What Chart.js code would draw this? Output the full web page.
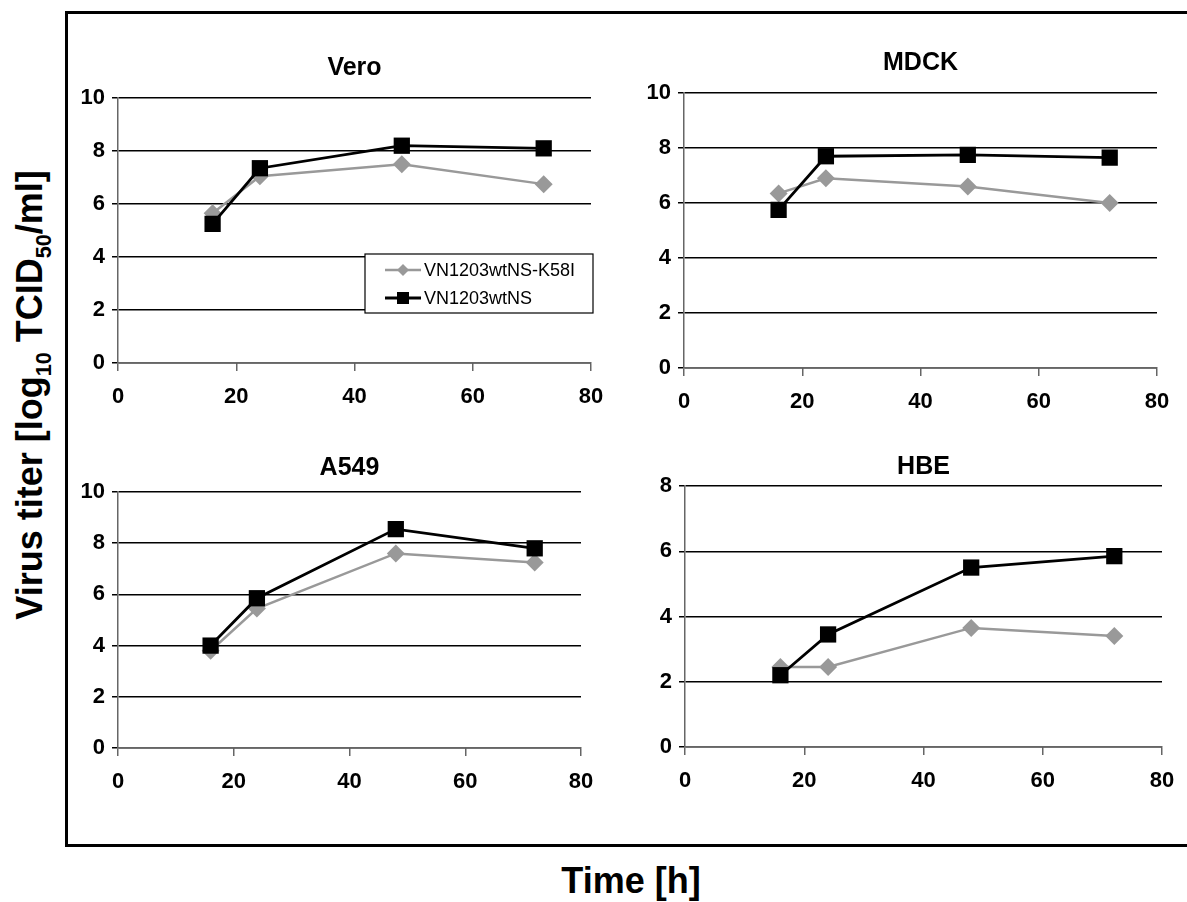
<!DOCTYPE html>
<html>
<head>
<meta charset="utf-8">
<title>Virus titer growth curves</title>
<script src="https://cdn.jsdelivr.net/npm/chart.js@4/dist/chart.umd.min.js"></script>
<style>
    body {
        margin: 0;
        width: 1187px;
        height: 902px;
        overflow: hidden;
        background: #fff;
        position: relative;
        font-family: 'Liberation Sans', Arial, sans-serif;
    }
    #frame {
        position: absolute;
        left: 65px;
        top: 11px;
        width: 1200px;
        height: 830px;
        border: 3px solid #000;
    }
    canvas {
        position: absolute;
    }
    .axis-title {
        position: absolute;
        font-weight: bold;
        white-space: nowrap;
        color: #000;
        transform: translate(-50%, -50%);
    }
    #yTitle {
        left: 33px;
        top: 395px;
        font-size: 36px;
        transform: translate(-50%, -50%) rotate(-90deg);
    }
    #yTitle sub {
        font-size: 60%;
    }
    #xTitle {
        left: 631px;
        top: 881px;
        font-size: 36px;
    }
</style>
</head>
<body>
<div id="frame"></div>
<div class="axis-title" id="yTitle">Virus titer [log<sub>10</sub> TCID<sub>50</sub>/ml]</div>
<div class="axis-title" id="xTitle">Time [h]</div>
<canvas id="veroChart"></canvas>
<canvas id="mdckChart"></canvas>
<canvas id="a549Chart"></canvas>
<canvas id="hbeChart"></canvas>

<script>
// Sampling times (h)
const hours = [16, 24, 48, 72];

// Series names
const seriesNames = ['VN1203wtNS-K58I', 'VN1203wtNS'];

// Titers, log10 TCID50/ml
const veroK58I = [5.65, 7.05, 7.5, 6.75];
const veroWt   = [5.25, 7.35, 8.2, 8.1];
const mdckK58I = [6.35, 6.9, 6.6, 6.0];
const mdckWt   = [5.75, 7.7, 7.75, 7.65];
const a549K58I = [3.8, 5.45, 7.6, 7.25];
const a549Wt   = [4.0, 5.85, 8.55, 7.8];
const hbeK58I  = [2.45, 2.45, 3.65, 3.4];
const hbeWt    = [2.2, 3.45, 5.5, 5.85];

// Axis ranges
const xMin = 0, xMax = 80, xStep = 20;
const yMaxFull = 10;
const yMaxHbe = 8;
const yStep = 2;

const FONT = "'Liberation Sans', Arial, sans-serif";
const GREY = '#999999';

/**
 * Panel title, drawn above the plot area
 */
const panelTitlePlugin = {
    id: 'panelTitle',
    afterDraw(chart, args, opts) {
        const area = chart.chartArea;
        const ctx = chart.ctx;
        ctx.save();
        ctx.font = 'bold 25px ' + FONT;
        ctx.fillStyle = '#000';
        ctx.textAlign = 'center';
        ctx.textBaseline = 'middle';
        ctx.fillText(opts.text, (area.left + area.right) / 2, area.top - opts.dy);
        ctx.restore();
    }
};

/**
 * Boxed legend inside the Vero panel
 */
const boxLegendPlugin = {
    id: 'boxLegend',
    afterDraw(chart, args, opts) {
        if (!opts.show) return;
        const area = chart.chartArea;
        const ctx = chart.ctx;
        const x0 = area.left + opts.left;
        const y0 = area.top + opts.top;

        ctx.save();
        ctx.fillStyle = '#fff';
        ctx.fillRect(x0, y0, opts.width, opts.height);
        ctx.strokeStyle = '#000';
        ctx.lineWidth = 1.2;
        ctx.strokeRect(x0, y0, opts.width, opts.height);

        chart.data.datasets.forEach((ds, i) => {
            const cy = y0 + 16 + i * 28;
            const lx = x0 + 20;
            // line sample
            ctx.strokeStyle = ds.borderColor;
            ctx.lineWidth = ds.borderWidth;
            ctx.beginPath();
            ctx.moveTo(lx, cy);
            ctx.lineTo(lx + 36, cy);
            ctx.stroke();
            // marker sample
            const mx = lx + 18;
            ctx.fillStyle = ds.pointBackgroundColor;
            ctx.beginPath();
            if (ds.pointStyle === 'rectRot') {
                ctx.moveTo(mx, cy - 6);
                ctx.lineTo(mx + 6, cy);
                ctx.lineTo(mx, cy + 6);
                ctx.lineTo(mx - 6, cy);
                ctx.closePath();
            } else {
                ctx.rect(mx - 6, cy - 6, 12, 12);
            }
            ctx.fill();
            // label
            ctx.fillStyle = '#000';
            ctx.font = '18px ' + FONT;
            ctx.textAlign = 'left';
            ctx.textBaseline = 'middle';
            ctx.fillText(ds.label, lx + 39, cy + 1);
        });
        ctx.restore();
    }
};

function makeDatasets(k58i, wt) {
    return [
        {
            label: seriesNames[0],
            data: hours.map((h, i) => ({ x: h, y: k58i[i] })),
            borderColor: GREY,
            backgroundColor: GREY,
            pointBackgroundColor: GREY,
            pointBorderColor: GREY,
            borderWidth: 2.5,
            pointStyle: 'rectRot',
            pointRadius: 9,
            pointBorderWidth: 0,
            tension: 0,
            order: 1
        },
        {
            label: seriesNames[1],
            data: hours.map((h, i) => ({ x: h, y: wt[i] })),
            borderColor: '#000',
            backgroundColor: '#000',
            pointBackgroundColor: '#000',
            pointBorderColor: '#000',
            borderWidth: 2.8,
            pointStyle: 'rect',
            pointRadius: 11.5,
            pointBorderWidth: 0,
            tension: 0,
            order: 0
        }
    ];
}

/**
 * One small panel; area gives the wanted plot box on the page
 */
function createPanel(canvasId, title, titleDy, area, yMax, k58i, wt, withLegend) {
    const padLeft = 60, padTop = 50, padRight = 35, padBottom = 55;
    const canvas = document.getElementById(canvasId);
    const w = area.right - area.left + padLeft + padRight;
    const h = area.bottom - area.top + padTop + padBottom;
    canvas.width = w;
    canvas.height = h;
    canvas.style.left = (area.left - padLeft) + 'px';
    canvas.style.top = (area.top - padTop) + 'px';
    canvas.style.width = w + 'px';
    canvas.style.height = h + 'px';

    return new Chart(canvas, {
        type: 'line',
        data: { datasets: makeDatasets(k58i, wt) },
        plugins: [panelTitlePlugin, boxLegendPlugin],
        options: {
            responsive: false,
            animation: false,
            devicePixelRatio: 1,
            layout: {
                padding: { top: padTop, right: padRight, left: 0, bottom: 0 }
            },
            plugins: {
                legend: { display: false },
                tooltip: { enabled: false },
                title: { display: false },
                panelTitle: { text: title, dy: titleDy },
                boxLegend: {
                    show: withLegend,
                    left: 247,
                    top: 156,
                    width: 228,
                    height: 59
                }
            },
            scales: {
                x: {
                    type: 'linear',
                    min: xMin,
                    max: xMax,
                    afterFit: function(scale) { scale.height = padBottom; },
                    ticks: {
                        stepSize: xStep,
                        color: '#000',
                        padding: 13,
                        maxRotation: 0,
                        font: { family: FONT, size: 22, weight: 'bold' }
                    },
                    grid: {
                        drawOnChartArea: false,
                        drawTicks: true,
                        tickLength: 8,
                        color: '#666',
                        lineWidth: 1.5
                    },
                    border: { color: '#666', width: 1.5 }
                },
                y: {
                    min: 0,
                    max: yMax,
                    afterFit: function(scale) { scale.width = padLeft; },
                    ticks: {
                        stepSize: yStep,
                        color: '#000',
                        padding: 7,
                        font: { family: FONT, size: 22, weight: 'bold' }
                    },
                    grid: {
                        color: '#000',
                        lineWidth: 1.5,
                        drawTicks: true,
                        tickLength: 6
                    },
                    border: { color: '#666', width: 1.5 }
                }
            }
        }
    });
}

createPanel('veroChart', 'Vero', 30, { left: 118, right: 591, top: 98, bottom: 363 }, yMaxFull, veroK58I, veroWt, true);
createPanel('mdckChart', 'MDCK', 30, { left: 684, right: 1157, top: 93, bottom: 368 }, yMaxFull, mdckK58I, mdckWt, false);
createPanel('a549Chart', 'A549', 24, { left: 118, right: 581, top: 492, bottom: 748 }, yMaxFull, a549K58I, a549Wt, false);
createPanel('hbeChart', 'HBE', 19, { left: 685, right: 1162, top: 486, bottom: 747 }, yMaxHbe, hbeK58I, hbeWt, false);
</script>
</body>
</html>
